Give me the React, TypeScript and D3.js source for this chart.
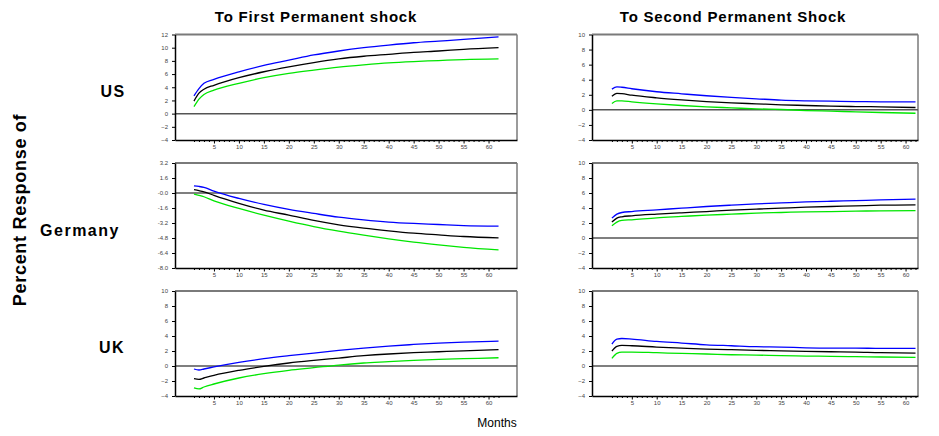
import { useEffect, useRef } from 'react'
import * as d3 from 'd3'

const months = [1, 2, 3, 5, 10, 15, 20, 25, 30, 35, 40, 45, 50, 55, 62]

const usFirstUpper = [2.7, 3.8, 4.6, 5.2, 6.35, 7.3, 8.1, 8.9, 9.5, 10.0, 10.4, 10.75, 11.0, 11.25, 11.65]
const usFirstMid = [1.9, 3.1, 3.7, 4.3, 5.45, 6.35, 7.1, 7.75, 8.3, 8.7, 9.0, 9.3, 9.5, 9.75, 10.0]
const usFirstLower = [1.05, 2.2, 2.9, 3.55, 4.6, 5.45, 6.1, 6.6, 7.05, 7.4, 7.7, 7.9, 8.05, 8.2, 8.3]

const usSecondUpper = [2.75, 3.05, 3.0, 2.8, 2.4, 2.13, 1.87, 1.65, 1.47, 1.29, 1.2, 1.15, 1.1, 1.07, 1.05]
const usSecondMid = [1.82, 2.2, 2.15, 1.95, 1.6, 1.33, 1.1, 0.93, 0.8, 0.67, 0.58, 0.49, 0.44, 0.4, 0.31]
const usSecondLower = [0.85, 1.2, 1.2, 1.07, 0.8, 0.58, 0.4, 0.27, 0.13, 0.05, -0.09, -0.17, -0.27, -0.35, -0.45]

const deFirstUpper = [0.77, 0.7, 0.6, 0.2, -0.58, -1.22, -1.75, -2.18, -2.58, -2.87, -3.1, -3.25, -3.36, -3.47, -3.54]
const deFirstMid = [0.35, 0.25, 0.13, -0.26, -1.11, -1.83, -2.36, -2.93, -3.4, -3.75, -4.04, -4.29, -4.47, -4.64, -4.79]
const deFirstLower = [-0.12, -0.25, -0.4, -0.83, -1.65, -2.36, -3.0, -3.58, -4.07, -4.5, -4.9, -5.25, -5.54, -5.79, -6.07]

const deSecondUpper = [2.65, 3.18, 3.4, 3.53, 3.75, 3.98, 4.2, 4.38, 4.55, 4.68, 4.81, 4.9, 4.99, 5.08, 5.17]
const deSecondMid = [2.12, 2.65, 2.83, 2.96, 3.18, 3.36, 3.53, 3.71, 3.85, 3.98, 4.11, 4.2, 4.28, 4.37, 4.42]
const deSecondLower = [1.63, 2.12, 2.34, 2.43, 2.69, 2.87, 3.05, 3.18, 3.32, 3.4, 3.49, 3.53, 3.58, 3.62, 3.66]

const ukFirstUpper = [-0.4, -0.53, -0.4, -0.13, 0.48, 0.97, 1.37, 1.73, 2.07, 2.39, 2.66, 2.87, 3.06, 3.19, 3.32]
const ukFirstMid = [-1.69, -1.78, -1.6, -1.25, -0.58, -0.05, 0.4, 0.75, 1.06, 1.37, 1.6, 1.77, 1.9, 2.03, 2.17]
const ukFirstLower = [-2.93, -3.06, -2.8, -2.4, -1.6, -1.02, -0.58, -0.23, 0.13, 0.4, 0.57, 0.75, 0.88, 0.97, 1.1]

const ukSecondUpper = [2.93, 3.59, 3.67, 3.59, 3.27, 3.06, 2.83, 2.7, 2.57, 2.53, 2.43, 2.39, 2.39, 2.34, 2.34]
const ukSecondMid = [1.99, 2.61, 2.74, 2.7, 2.53, 2.39, 2.26, 2.17, 2.08, 2.03, 1.95, 1.9, 1.86, 1.77, 1.73]
const ukSecondLower = [1.01, 1.68, 1.86, 1.86, 1.77, 1.68, 1.6, 1.5, 1.46, 1.37, 1.33, 1.28, 1.24, 1.2, 1.15]

const columnTitles = ['To First Permanent shock', 'To Second Permanent Shock']
const rowLabels = ['US', 'Germany', 'UK']

const ticksStd = [-4, -2, 0, 2, 4, 6, 8, 10]
const ticksUs = [-4, -2, 0, 2, 4, 6, 8, 10, 12]
const ticksDe = [-8.0, -6.4, -4.8, -3.2, -1.6, 0, 1.6, 3.2]
const tickLabelsDe = ['-8.0', '-6.4', '-4.8', '-3.2', '-1.6', '-0.0', '1.6', '3.2']

const panels = [
    { row: 0, col: 0, domain: [-4, 12], ticks: ticksUs, labels: null, series: [usFirstUpper, usFirstMid, usFirstLower] },
    { row: 0, col: 1, domain: [-4, 10], ticks: ticksStd, labels: null, series: [usSecondUpper, usSecondMid, usSecondLower] },
    { row: 1, col: 0, domain: [-8, 3.2], ticks: ticksDe, labels: tickLabelsDe, series: [deFirstUpper, deFirstMid, deFirstLower] },
    { row: 1, col: 1, domain: [-4, 10], ticks: ticksStd, labels: null, series: [deSecondUpper, deSecondMid, deSecondLower] },
    { row: 2, col: 0, domain: [-4, 10], ticks: ticksStd, labels: null, series: [ukFirstUpper, ukFirstMid, ukFirstLower] },
    { row: 2, col: 1, domain: [-4, 10], ticks: ticksStd, labels: null, series: [ukSecondUpper, ukSecondMid, ukSecondLower] }
]

const colors = ['#0000ff', '#000000', '#00e600']

function App() {
    const ref = useRef<SVGSVGElement>(null)

    useEffect(() => {
        const svg = d3.select(ref.current)
        svg.selectAll('*').remove()

        const cols = [
            { left: 175, right: 517, xDomain: [-2.8, 65.7] },
            { left: 592, right: 918, xDomain: [-3.0, 62.5] }
        ]
        const rows = [
            { top: 34.5, bottom: 140 },
            { top: 163, bottom: 268 },
            { top: 291, bottom: 396 }
        ]
        const font = 'Liberation Sans, Arial, sans-serif'

        panels.forEach(p => {
            const c = cols[p.col]
            const r = rows[p.row]
            const x = d3.scaleLinear().domain(c.xDomain).range([c.left, c.right])
            const y = d3.scaleLinear().domain(p.domain).range([r.bottom, r.top])
            const g = svg.append('g')

            // frame: grey top and right edges
            g.append('line')
                .attr('x1', c.left).attr('x2', c.right)
                .attr('y1', r.top).attr('y2', r.top)
                .attr('stroke', '#7a7a7a').attr('stroke-width', 2)
            g.append('line')
                .attr('x1', c.right).attr('x2', c.right)
                .attr('y1', r.top).attr('y2', r.bottom)
                .attr('stroke', '#7a7a7a').attr('stroke-width', 1.5)

            // zero line
            g.append('line')
                .attr('x1', c.left).attr('x2', c.right)
                .attr('y1', y(0)).attr('y2', y(0))
                .attr('stroke', '#555').attr('stroke-width', 1.5)

            const yAxis = d3.axisLeft(y)
                .tickValues(p.ticks)
                .tickSize(3)
                .tickSizeOuter(0)
                .tickFormat((d, i) => (p.labels ? p.labels[i] : d3.format('d')(d as number)))
            const ya = g.append('g')
                .attr('transform', `translate(${c.left},0)`)
                .call(yAxis)
            ya.select('.domain').attr('stroke', '#000').attr('stroke-width', 1.5)
            ya.selectAll('.tick line').attr('stroke', '#000')
            ya.selectAll('.tick text')
                .attr('x', -7)
                .style('font-family', font)
                .style('font-size', '6px')
                .attr('fill', '#444')

            const xAxis = d3.axisBottom(x)
                .tickValues(d3.range(1, 63))
                .tickSize(2)
                .tickSizeOuter(0)
                .tickFormat(d => ((d as number) % 5 === 0 ? String(d) : ''))
            const xa = g.append('g')
                .attr('transform', `translate(0,${r.bottom})`)
                .call(xAxis)
            xa.select('.domain').attr('stroke', '#000').attr('stroke-width', 1.5)
            xa.selectAll('.tick line')
                .attr('stroke', '#000')
                .attr('y2', (d: any) => (d % 5 === 0 ? 3.5 : 2))
            xa.selectAll('.tick text')
                .attr('y', 4.5)
                .style('font-family', font)
                .style('font-size', '6px')
                .attr('fill', '#444')

            const line = d3.line<number>()
                .x((_, i) => x(months[i]))
                .y(d => y(d))
                .curve(d3.curveMonotoneX)

            p.series.forEach((s, i) => {
                g.append('path')
                    .datum(s)
                    .attr('d', line)
                    .attr('fill', 'none')
                    .attr('stroke', colors[i])
                    .attr('stroke-width', 1.3)
            })
        })

        // column titles
        const titleX = [316, 733]
        columnTitles.forEach((t, i) => {
            svg.append('text')
                .attr('x', titleX[i]).attr('y', 22)
                .attr('text-anchor', 'middle')
                .style('font-family', font)
                .style('font-size', '15px')
                .style('font-weight', 'bold')
                .style('letter-spacing', '0.8px')
                .text(t)
        })

        // row labels
        const rowLabelPos = [
            { x: 113, y: 97 },
            { x: 80, y: 236 },
            { x: 112, y: 353 }
        ]
        rowLabels.forEach((t, i) => {
            svg.append('text')
                .attr('x', rowLabelPos[i].x).attr('y', rowLabelPos[i].y)
                .attr('text-anchor', 'middle')
                .style('font-family', font)
                .style('font-size', '16px')
                .style('font-weight', 'bold')
                .style('letter-spacing', '1.5px')
                .text(t)
        })

        svg.append('text')
            .attr('transform', 'translate(26,210) rotate(-90)')
            .attr('text-anchor', 'middle')
            .style('font-family', font)
            .style('font-size', '18px')
            .style('font-weight', 'bold')
            .style('letter-spacing', '0.7px')
            .text('Percent Response of')

        svg.append('text')
            .attr('x', 497).attr('y', 427)
            .attr('text-anchor', 'middle')
            .style('font-family', font)
            .style('font-size', '12px')
            .text('Months')
    }, [])

    return (
        <svg
            ref={ref}
            width={939}
            height={436}
            style={{ position: 'absolute', left: 0, top: 0, background: '#fff' }}
        />
    )
}

export default App
